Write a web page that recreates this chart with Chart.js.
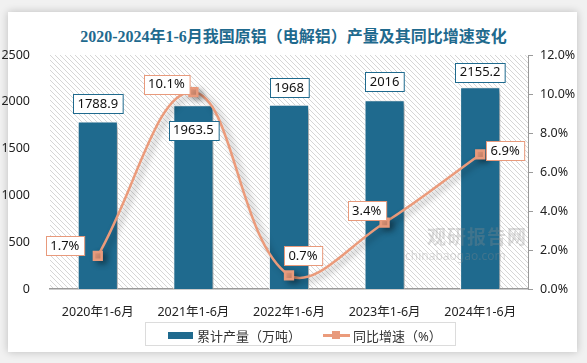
<!DOCTYPE html>
<html>
<head>
<meta charset="utf-8">
<script src="https://cdn.jsdelivr.net/npm/chart.js@4"></script>
<style>
  body { margin: 0; background: #f1f1f1; width: 587px; height: 363px; overflow: hidden; position: relative; font-family: "Noto Sans", "Noto Sans CJK SC", sans-serif; }
  .card { position: absolute; left: 8px; top: 12px; width: 569px; height: 340px; background: #fff; box-shadow: 0 0 8px rgba(0,0,0,0.22); }
  .title { position: absolute; left: 0; top: 23px; width: 587px; text-align: center; font: bold 16px "Liberation Serif", "Noto Sans CJK SC", serif; color: #1f6a8e; }
  canvas { position: absolute; left: 0; top: 0; }
  .legend { position: absolute; left: 145px; top: 322px; width: 311px; height: 24px; border: 1px solid #dcdcdc; box-sizing: border-box; font-size: 13px; color: #333; }
  .legend span { position: absolute; top: 3px; }
  .swatch { position: absolute; left: 22px; top: 9px; width: 25px; height: 7px; background: #1f6a8e; }
  .ln { position: absolute; left: 177px; top: 11px; width: 27px; height: 2.5px; background: #eb9b7b; }
  .sq { position: absolute; left: 186px; top: 8px; width: 8px; height: 8px; background: #e89a7c; }
  .wm { position: absolute; left: 405px; top: 222px; color: rgba(140,140,140,0.3); font-weight: bold; z-index: 2; }
</style>
</head>
<body>
<div class="card"></div>
<div class="title">2020-2024年1-6月我国原铝（电解铝）产量及其同比增速变化</div>
<canvas id="chart" width="587" height="363"></canvas>
<div class="wm"><div style="font-size:19px;letter-spacing:1px;padding-left:22px">观研报告网</div><div style="font-size:12px;font-weight:normal;margin-top:-3px">chinabaogao.com</div></div>
<div class="legend">
  <div class="swatch"></div><span style="left:51px">累计产量（万吨）</span>
  <div class="ln"></div><div class="sq"></div><span style="left:207px">同比增速（%）</span>
</div>
<script>
const categories = ['2020年1-6月', '2021年1-6月', '2022年1-6月', '2023年1-6月', '2024年1-6月'];
const outputValues = [1788.9, 1963.5, 1968, 2016, 2155.2];
const growthValues = [1.7, 10.1, 0.7, 3.4, 6.9];

// label placement (pixels from the bar top / from the point)
const barLabelOffsets = [-18, 25, -17, -19, -15];
const lineLabelOffsets = [[-33, -10], [-27, -8], [14, -20], [-18, -12], [25, -4]];

const barColor = '#1f6a8e';
const lineColor = '#eb9b7b';

// diagonal hatch for the plot background
const tile = document.createElement('canvas');
tile.width = 5; tile.height = 5;
const tctx = tile.getContext('2d');
tctx.strokeStyle = '#d6d6d6';
tctx.lineWidth = 1;
tctx.beginPath();
tctx.moveTo(0, 0); tctx.lineTo(5, 5);
tctx.moveTo(-1, 4); tctx.lineTo(1, 6);
tctx.moveTo(4, -1); tctx.lineTo(6, 1);
tctx.stroke();

const hatchPlugin = {
    id: 'hatch',
    beforeDraw(chart) {
        const { ctx, chartArea: a } = chart;
        ctx.save();
        ctx.fillStyle = ctx.createPattern(tile, 'repeat');
        ctx.fillRect(a.left, a.top, a.width, a.height);
        ctx.restore();
    }
};

const shadowPlugin = {
    id: 'shadow',
    beforeDatasetDraw(chart) {
        const ctx = chart.ctx;
        ctx.save();
        ctx.shadowColor = 'rgba(0,0,0,0.35)';
        ctx.shadowBlur = 6;
        ctx.shadowOffsetX = 4;
        ctx.shadowOffsetY = 3;
    },
    afterDatasetDraw(chart) {
        chart.ctx.restore();
    }
};

function drawBox(ctx, text, cx, cy, border) {
    ctx.font = '13px "Noto Sans", sans-serif';
    const w = ctx.measureText(text).width + 9;
    const h = 19;
    const x = Math.round(cx - w / 2) + 0.5;
    const y = Math.round(cy - h / 2) + 0.5;
    ctx.fillStyle = '#fff';
    ctx.fillRect(x, y, w, h);
    ctx.strokeStyle = border;
    ctx.lineWidth = 1;
    ctx.strokeRect(x, y, w, h);
    ctx.fillStyle = '#111';
    ctx.textAlign = 'center';
    ctx.textBaseline = 'middle';
    ctx.fillText(text, cx, cy + 0.5);
}

const labelPlugin = {
    id: 'labels',
    afterDatasetsDraw(chart) {
        const ctx = chart.ctx;
        ctx.save();
        chart.getDatasetMeta(0).data.forEach((bar, i) => {
            drawBox(ctx, String(outputValues[i]), bar.x, bar.y + barLabelOffsets[i], barColor);
        });
        chart.getDatasetMeta(1).data.forEach((pt, i) => {
            const o = lineLabelOffsets[i];
            drawBox(ctx, growthValues[i].toFixed(1) + '%', pt.x + o[0], pt.y + o[1], '#e89a7c');
        });
        ctx.restore();
    }
};

const tickFont = { family: '"Noto Sans", "Noto Sans CJK SC", sans-serif', size: 12.5 };

new Chart(document.getElementById('chart'), {
    data: {
        labels: categories,
        datasets: [{
            type: 'bar',
            label: '累计产量（万吨）',
            data: outputValues,
            backgroundColor: barColor,
            borderColor: '#fff',
            borderWidth: 1,
            categoryPercentage: 1,
            barPercentage: 0.42,
            yAxisID: 'y',
            order: 1
        }, {
            type: 'line',
            label: '同比增速（%）',
            data: growthValues,
            borderColor: lineColor,
            borderWidth: 2.5,
            tension: 0.4,
            pointStyle: 'rect',
            pointRadius: 5.5,
            pointBackgroundColor: '#e89a7c',
            pointBorderColor: '#e89a7c',
            yAxisID: 'y1',
            order: 0
        }]
    },
    options: {
        responsive: false,
        animation: false,
        layout: { padding: { top: 55, left: 0, right: 0, bottom: 0 } },
        plugins: { legend: { display: false }, tooltip: { enabled: false } },
        scales: {
            x: {
                grid: { display: false },
                border: { display: true, color: '#9a9a9a', width: 1.5 },
                ticks: { color: '#222', font: tickFont, padding: 8, maxRotation: 0 },
                afterFit(scale) { scale.height = 74; }
            },
            y: {
                position: 'left',
                min: 0, max: 2500,
                grid: { display: false },
                border: { display: false },
                ticks: { stepSize: 500, color: '#222', font: tickFont, padding: 12,
                    callback: v => String(v) },
                afterFit(scale) { scale.width = 50; }
            },
            y1: {
                position: 'right',
                min: 0, max: 12,
                grid: { drawOnChartArea: false, drawTicks: true, tickLength: 5, color: '#9a9a9a' },
                border: { display: true, color: '#9a9a9a' },
                ticks: { stepSize: 2, color: '#222', font: tickFont, padding: 7,
                    callback: v => v.toFixed(1) + '%' },
                afterFit(scale) { scale.width = 59; }
            }
        }
    },
    plugins: [hatchPlugin, shadowPlugin, labelPlugin]
});
</script>
</body>
</html>
